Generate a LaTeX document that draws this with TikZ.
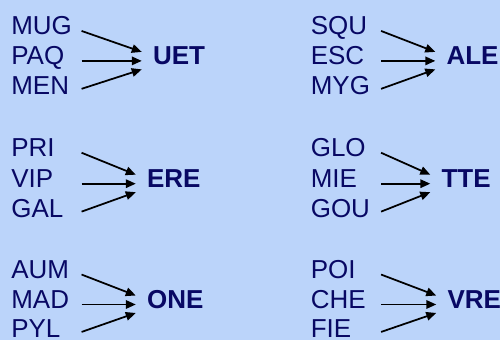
\documentclass[tikz,border=0pt]{standalone}
\usepackage{fontspec}
\setmainfont{Liberation Sans}
\usetikzlibrary{arrows.meta}

\definecolor{bgblue}{RGB}{187,212,250}
\definecolor{navy}{RGB}{8,8,100}

\begin{document}
\begin{tikzpicture}[
  src/.style={anchor=base west, inner sep=0pt, text width=1.4cm, align=left,
    text=navy, font=\fontsize{14.8}{17}\selectfont},
  tgt/.style={anchor=base west, inner sep=0pt, text=navy,
    font=\fontsize{14.8}{17}\selectfont\bfseries},
  arr/.style={-{Triangle[length=2mm,width=1.7mm]}, line width=1pt}
]

\fill [bgblue] (0,0) rectangle (10.02,6.82);

% left column
\node [src] (mug) at (0.22,6.12) {MUG};
\node [src] (paq) at (0.22,5.52) {PAQ};
\node [src] (men) at (0.22,4.92) {MEN};
\node [tgt] (uet) at (3.06,5.52) {UET};

\node [src] (pri) at (0.22,3.68) {PRI};
\node [src] (vip) at (0.22,3.06) {VIP};
\node [src] (gal) at (0.22,2.46) {GAL};
\node [tgt] (ere) at (2.94,3.06) {ERE};

\node [src] (aum) at (0.22,1.24) {AUM};
\node [src] (mad) at (0.22,0.64) {MAD};
\node [src] (pyl) at (0.22,0.05) {PYL};
\node [tgt] (one) at (2.94,0.64) {ONE};

% right column
\node [src] (squ) at (6.22,6.12) {SQU};
\node [src] (esc) at (6.22,5.52) {ESC};
\node [src] (myg) at (6.22,4.92) {MYG};
\node [tgt] (ale) at (8.94,5.52) {ALE};

\node [src] (glo) at (6.22,3.68) {GLO};
\node [src] (mie) at (6.22,3.06) {MIE};
\node [src] (gou) at (6.22,2.46) {GOU};
\node [tgt] (tte) at (8.84,3.06) {TTE};

\node [src] (poi) at (6.22,1.24) {POI};
\node [src] (che) at (6.22,0.64) {CHE};
\node [src] (fie) at (6.22,0.05) {FIE};
\node [tgt] (vre) at (8.96,0.64) {VRE};

\foreach \a/\b/\c/\t in {mug/paq/men/uet, pri/vip/gal/ere, aum/mad/pyl/one,
                         squ/esc/myg/ale, glo/mie/gou/tte, poi/che/fie/vre} {
  \draw [arr] ([yshift=0.8mm]\a.base east) -- ([xshift=-2.2mm,yshift=2.6mm]\t.base west);
  \draw [arr] ([yshift=0.8mm]\b.base east) -- ([xshift=-2.2mm,yshift=0.8mm]\t.base west);
  \draw [arr] ([yshift=1.2mm]\c.base east) -- ([xshift=-2.2mm,yshift=-0.9mm]\t.base west);
}

\end{tikzpicture}
\end{document}
